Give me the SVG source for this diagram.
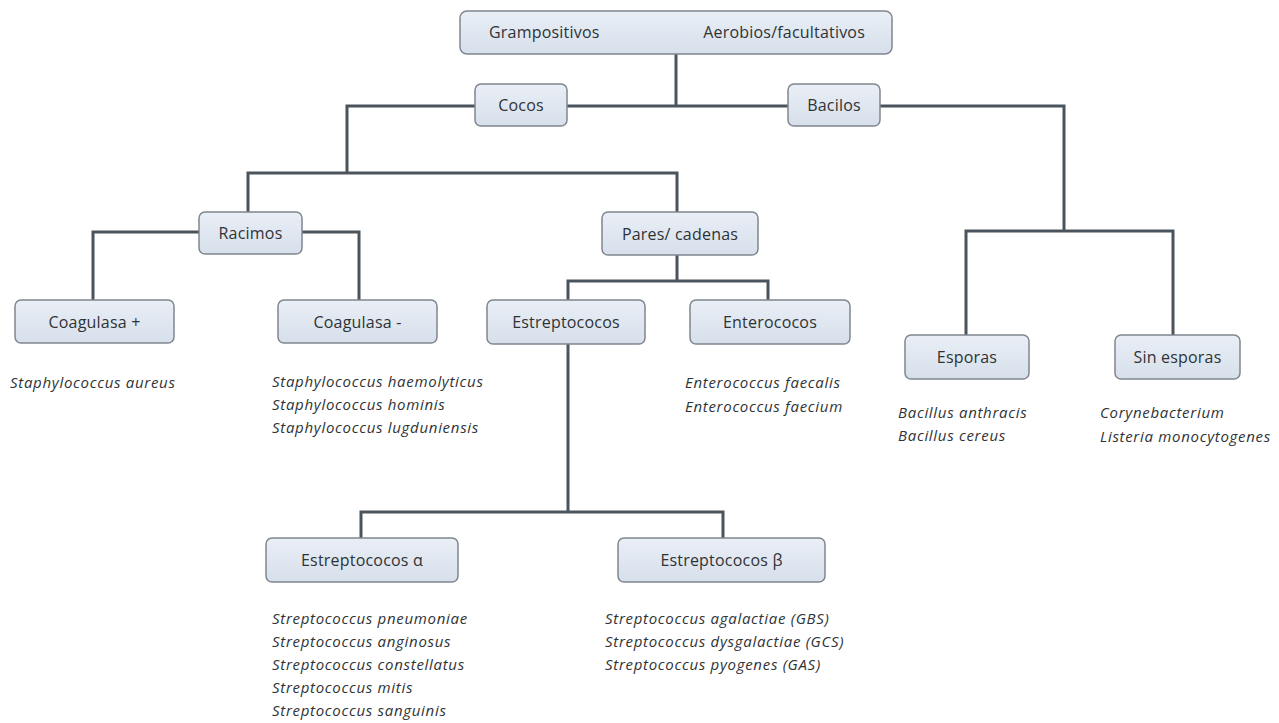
<svg xmlns="http://www.w3.org/2000/svg" width="1279" height="723" viewBox="0 0 1279 723">
  <defs>
    <linearGradient id="boxFill" x1="0" y1="0" x2="0" y2="1">
      <stop offset="0" stop-color="#eaeff6"/>
      <stop offset="1" stop-color="#d6dfeb"/>
    </linearGradient>
    <style>
      .box { fill: url(#boxFill); stroke: #80878f; stroke-width: 1.5; }
      .lbl { font-family: "Open Sans", "Liberation Sans", sans-serif; font-size: 16px; letter-spacing: 0.2px; fill: #2f3336; text-anchor: middle; }
      .lblL { font-family: "Open Sans", "Liberation Sans", sans-serif; font-size: 16px; letter-spacing: 0.2px; fill: #2f3336; }
      .sp { font-family: "Open Sans", "Liberation Sans", sans-serif; font-size: 15px; letter-spacing: 0.7px; font-style: italic; fill: #2f3336; }
      .conn { fill: none; stroke: #4b545c; stroke-width: 3; }
    </style>
  </defs>
  <rect width="1279" height="723" fill="#ffffff"/>

  <!-- connectors -->
  <g id="connectors" class="conn">
    <path d="M676 54 V106"/>
    <path d="M567 106 H788"/>
    <path d="M475 106 H347 V173"/>
    <path d="M248 212 V173 H677 V212"/>
    <path d="M199 232 H93 V300"/>
    <path d="M302 232 H359 V300"/>
    <path d="M677 255 V281"/>
    <path d="M568 300 V281 H768 V300"/>
    <path d="M568 344 V512"/>
    <path d="M361 538 V512 H723 V538"/>
    <path d="M880 106 H1064 V231"/>
    <path d="M966 335 V231 H1173 V335"/>
  </g>

  <!-- root -->
  <g id="root">
    <rect class="box" x="460" y="11" width="432" height="43" rx="7"/>
    <text class="lblL" x="489" y="38">Grampositivos</text>
    <text class="lblL" x="865" y="38" text-anchor="end">Aerobios/facultativos</text>
  </g>

  <g id="cocos">
    <rect class="box" x="475" y="84" width="92" height="42" rx="6"/>
    <text class="lbl" x="521" y="111">Cocos</text>
  </g>

  <g id="bacilos">
    <rect class="box" x="788" y="84" width="92" height="42" rx="6"/>
    <text class="lbl" x="834" y="111">Bacilos</text>
  </g>

  <g id="racimos">
    <rect class="box" x="199" y="212" width="103" height="42" rx="6"/>
    <text class="lbl" x="250.5" y="239">Racimos</text>
  </g>

  <g id="pares-cadenas">
    <rect class="box" x="602" y="212" width="156" height="43" rx="6"/>
    <text class="lbl" x="680" y="240">Pares/ cadenas</text>
  </g>

  <g id="coagulasa-pos">
    <rect class="box" x="15" y="300" width="159" height="43" rx="6"/>
    <text class="lbl" x="94.5" y="328">Coagulasa +</text>
    <text class="sp" x="10" y="388">Staphylococcus aureus</text>
  </g>

  <g id="coagulasa-neg">
    <rect class="box" x="278" y="300" width="159" height="43" rx="6"/>
    <text class="lbl" x="357.5" y="328">Coagulasa -</text>
    <text class="sp" x="272" y="387">Staphylococcus haemolyticus</text>
    <text class="sp" x="272" y="410">Staphylococcus hominis</text>
    <text class="sp" x="272" y="433">Staphylococcus lugduniensis</text>
  </g>

  <g id="estreptococos">
    <rect class="box" x="487" y="300" width="158" height="44" rx="6"/>
    <text class="lbl" x="566" y="328">Estreptococos</text>
  </g>

  <g id="enterococos">
    <rect class="box" x="690" y="300" width="160" height="44" rx="6"/>
    <text class="lbl" x="770" y="328">Enterococos</text>
    <text class="sp" x="685" y="388">Enterococcus faecalis</text>
    <text class="sp" x="685" y="412">Enterococcus faecium</text>
  </g>

  <g id="esporas">
    <rect class="box" x="905" y="335" width="124" height="44" rx="6"/>
    <text class="lbl" x="967" y="363">Esporas</text>
    <text class="sp" x="898" y="418">Bacillus anthracis</text>
    <text class="sp" x="898" y="441">Bacillus cereus</text>
  </g>

  <g id="sin-esporas">
    <rect class="box" x="1115" y="335" width="125" height="44" rx="6"/>
    <text class="lbl" x="1177.5" y="363">Sin esporas</text>
    <text class="sp" x="1100" y="418">Corynebacterium</text>
    <text class="sp" x="1100" y="442">Listeria monocytogenes</text>
  </g>

  <g id="estreptococos-alfa">
    <rect class="box" x="266" y="538" width="192" height="44" rx="6"/>
    <text class="lbl" x="362" y="566">Estreptococos α</text>
    <text class="sp" x="272" y="624">Streptococcus pneumoniae</text>
    <text class="sp" x="272" y="647">Streptococcus anginosus</text>
    <text class="sp" x="272" y="670">Streptococcus constellatus</text>
    <text class="sp" x="272" y="693">Streptococcus mitis</text>
    <text class="sp" x="272" y="716">Streptococcus sanguinis</text>
  </g>

  <g id="estreptococos-beta">
    <rect class="box" x="618" y="538" width="207" height="44" rx="6"/>
    <text class="lbl" x="721.5" y="566">Estreptococos β</text>
    <text class="sp" x="605" y="624">Streptococcus agalactiae (GBS)</text>
    <text class="sp" x="605" y="647">Streptococcus dysgalactiae (GCS)</text>
    <text class="sp" x="605" y="670">Streptococcus pyogenes (GAS)</text>
  </g>
</svg>
